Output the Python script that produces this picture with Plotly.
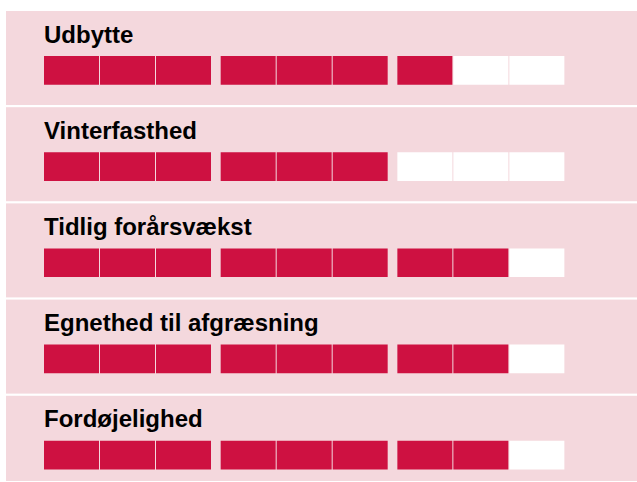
import plotly.graph_objects as go
from plotly.subplots import make_subplots

# ---- data ----
categories = ["Udbytte", "Vinterfasthed", "Tidlig forårsvækst",
              "Egnethed til afgræsning", "Fordøjelighed"]
scores = [7, 6, 8, 8, 8]
max_score = 9

# ---- style / layout constants ----
W, H = 637, 482
PINK = "#F4D8DD"
RED = "#CE1141"
EMPTY = "#FFFFFF"
FONT = "Liberation Sans, Arial, sans-serif"

m_l, m_r, m_t, m_b = 6, 0, 11, 1
plot_w = W - m_l - m_r
plot_h = H - m_t - m_b

pitch_px = 56.0
seg_w = 55.0 / pitch_px
group_gap = 0.155
first_left_px = 44 - m_l

panel_pitch = 96.2
panel_h = 94.0
bar_off = 45.0
bar_h = 28.7

n = len(categories)
fig = make_subplots(rows=n, cols=1)

x_lo = -first_left_px / pitch_px
x_hi = x_lo + plot_w / pitch_px

for k, (cat, sc) in enumerate(zip(categories, scores)):
    top_px = k * panel_pitch
    bot_px = min(top_px + panel_h, plot_h)
    ph = bot_px - top_px
    d1 = 1 - top_px / plot_h
    d0 = 1 - bot_px / plot_h

    idx = list(range(max_score))
    xs = [i + group_gap * (i // 3) + seg_w / 2 for i in idx]
    colors = [RED if i < sc else EMPTY for i in idx]
    fig.add_trace(go.Bar(
        x=xs, y=[bar_h] * max_score, base=[-(bar_off + bar_h)] * max_score,
        width=[seg_w] * max_score,
        marker=dict(color=colors, line=dict(width=0)),
        hoverinfo="skip", showlegend=False,
    ), row=k + 1, col=1)

    ax = "" if k == 0 else str(k + 1)
    fig.layout["xaxis" + ax].update(range=[x_lo, x_hi], visible=False,
                                    fixedrange=True, domain=[0, 1])
    fig.layout["yaxis" + ax].update(range=[-ph, 0], visible=False,
                                    fixedrange=True, domain=[d0, d1])

    fig.add_annotation(
        text=cat, xref="paper", x=first_left_px / plot_w - 0.003, xanchor="left",
        yref="y" + ax, y=-23.0, yanchor="middle", showarrow=False,
        font=dict(family=FONT, size=24, color="#000000", weight=700),
    )

fig.update_layout(
    width=W, height=H,
    margin=dict(l=m_l, r=m_r, t=m_t, b=m_b, pad=0),
    paper_bgcolor="#FFFFFF", plot_bgcolor=PINK,
    barmode="overlay", showlegend=False,
)

fig.write_html("out.html",
               config={"displayModeBar": False, "staticPlot": True},
               post_script="document.body.style.margin='0';"
                           "document.body.style.overflow='hidden';")
